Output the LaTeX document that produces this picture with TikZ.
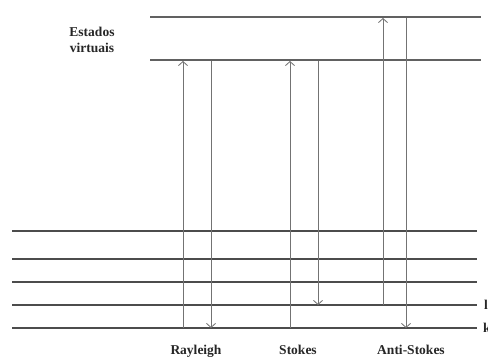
\documentclass[tikz,border=0pt]{standalone}
\usepackage{fontspec}
\setmainfont{Liberation Serif}
\usetikzlibrary{arrows.meta}
\begin{document}
\begin{tikzpicture}[x=1pt,y=-1pt,
  level/.style={draw=black!70,line width=1.1pt},
  vlevel/.style={draw=black!62,line width=1.7pt},
  trans/.style={draw=black!55,line width=0.85pt,-{Straight Barb[length=4pt,width=9pt]}},
  lbl/.style={font=\fontsize{13.5}{15.5}\selectfont\bfseries,inner sep=0pt,text=black!85},
  edge/.style={font=\fontsize{13.5}{14}\selectfont\bfseries,inner sep=0pt,anchor=west,text=black!85}]
\useasboundingbox (0,0) rectangle (488,358);
\clip (0,0) rectangle (488,358);
% virtual levels
\coordinate (v1a) at (150,17);  \coordinate (v1b) at (481,17);
\coordinate (v2a) at (150,60);  \coordinate (v2b) at (481,60);
\draw[vlevel] (v1a) -- (v1b);
\draw[vlevel] (v2a) -- (v2b);
% ground levels
\foreach \n/\y in {1/328,2/305,3/282,4/259,5/231}{
  \coordinate (g\n a) at (12,\y); \coordinate (g\n b) at (477,\y);
  \draw[level] (g\n a) -- (g\n b);
}
% transition end points
\coordinate (ru0) at (183,328); \coordinate (ru1) at (183,61);
\coordinate (rd0) at (211,61);  \coordinate (rd1) at (211,328);
\coordinate (su0) at (290,328); \coordinate (su1) at (290,61);
\coordinate (sd0) at (318,61);  \coordinate (sd1) at (318,305);
\coordinate (au0) at (383,305); \coordinate (au1) at (383,18);
\coordinate (ad0) at (406,18);  \coordinate (ad1) at (406,328);
\draw[trans] (ru0) -- (ru1);
\draw[trans] (rd0) -- (rd1);
\draw[trans] (su0) -- (su1);
\draw[trans] (sd0) -- (sd1);
\draw[trans] (au0) -- (au1);
\draw[trans] (ad0) -- (ad1);
% labels
\node[lbl,align=center] (ev) at (92,40) {Estados\\virtuais};
\node[lbl,anchor=base] (ray) at (196,354.5) {Rayleigh};
\node[lbl,anchor=base] (sto) at (298,354.5) {Stokes};
\node[lbl,anchor=base] (ast) at (411,354.5) {Anti-Stokes};
\node[edge] (cut1) at (484,305) {l};
\node[edge] (cut2) at (483,328) {k};
\end{tikzpicture}
\end{document}
